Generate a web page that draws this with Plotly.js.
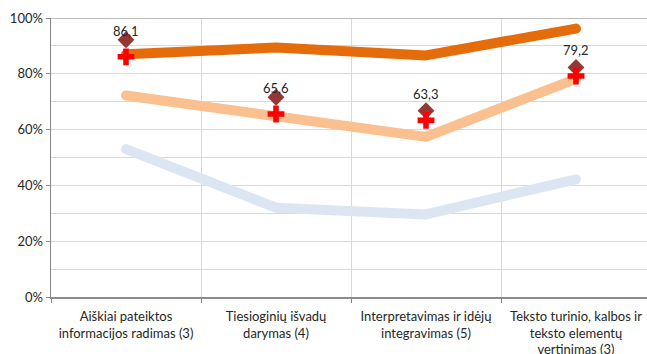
<!DOCTYPE html>
<html>
<head>
<meta charset="utf-8">
<script src="https://cdn.plot.ly/plotly-3.0.1.min.js"></script>
<style>
html,body{margin:0;padding:0;background:#fff;}
#chart{width:647px;height:354px;}
.js-line{stroke-linecap:round !important;stroke-linejoin:round !important;}
</style>
</head>
<body>
<div id="chart"></div>
<script>
// Categories
const categories = [
  "Aiškiai pateiktos<br>informacijos radimas (3)",
  "Tiesioginių išvadų<br>darymas (4)",
  "Interpretavimas ir idėjų<br>integravimas (5)",
  "Teksto turinio, kalbos ir<br>teksto elementų<br>vertinimas (3)"
];
// Series values (fractions)
const seriesHigh = [0.870, 0.894, 0.866, 0.962];   // dark orange
const seriesMid  = [0.722, 0.645, 0.574, 0.782];   // light orange
const seriesLow  = [0.530, 0.320, 0.296, 0.422];   // light blue
const diamondVals = [0.922, 0.716, 0.668, 0.823];  // dark red diamonds
const crossVals   = [0.861, 0.656, 0.633, 0.792];  // red crosses (labelled)
const crossLabels = ["86,1", "65,6", "63,3", "79,2"];
const yTickVals  = [0, 0.2, 0.4, 0.6, 0.8, 1.0];
const yTickText  = ["0%", "20%", "40%", "60%", "80%", "100%"];

const FONT = "Lato, 'Open Sans', sans-serif";

const lineTrace = (y, color) => ({
  type: "scatter", mode: "lines", x: categories, y: y,
  line: {color: color, width: 10}, hoverinfo: "skip", showlegend: false
});

const traces = [
  lineTrace(seriesLow, "#DCE6F2"),
  lineTrace(seriesMid, "#FAC090"),
  lineTrace(seriesHigh, "#E46C0A"),
  {type: "scatter", mode: "markers", x: categories, y: diamondVals,
   marker: {symbol: "diamond", size: 13, color: "#953735"}, showlegend: false},
  {type: "scatter", mode: "markers", x: categories, y: crossVals,
   marker: {symbol: "cross", size: 14, color: "#FF0000"}, showlegend: false}
];

const annotations = categories.map((c, i) => ({
  x: c, y: crossVals[i], xref: "x", yref: "y", text: crossLabels[i],
  showarrow: false, yshift: 26, font: {family: FONT, size: 13, color: "#262626"}
}));

const layout = {
  width: 647, height: 354,
  margin: {l: 51, r: 0, t: 18, b: 57, pad: 0},
  paper_bgcolor: "#fff", plot_bgcolor: "#fff",
  font: {family: FONT, size: 13, color: "#262626"},
  showlegend: false,
  xaxis: {
    type: "category", range: [-0.5, 3.4733], fixedrange: true,
    tickson: "boundaries", ticks: "outside", ticklen: 4, tickcolor: "#868686",
    ticklabelstandoff: 6,
    showgrid: true, gridcolor: "#D9D9D9", gridwidth: 1,
    showline: true, linecolor: "#8C8C8C", linewidth: 2,
    tickfont: {family: FONT, size: 13, color: "#262626"},
    automargin: false
  },
  yaxis: {
    range: [0, 1], tickvals: yTickVals, ticktext: yTickText,
    ticks: "outside", ticklen: 4, tickcolor: "#868686",
    showgrid: true, gridcolor: "#D9D9D9", gridwidth: 1,
    minor: {dtick: 0.1, showgrid: true, gridcolor: "#D9D9D9", gridwidth: 1, ticks: ""},
    showline: true, linecolor: "#868686", linewidth: 1.5,
    zeroline: false, tickfont: {family: FONT, size: 13, color: "#262626"},
    automargin: false, fixedrange: true
  },
  shapes: [{type: "line", xref: "paper", yref: "y", x0: 0, x1: 1, y0: 1, y1: 1,
            line: {color: "#A6A6A6", width: 1.5}}],
  annotations: annotations
};

Plotly.newPlot("chart", traces, layout, {displayModeBar: false, staticPlot: true});
</script>
</body>
</html>
